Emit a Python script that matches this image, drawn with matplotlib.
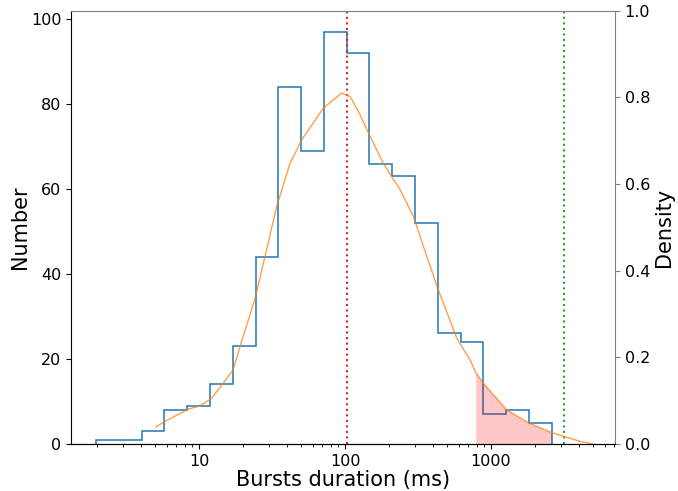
import numpy as np
import matplotlib
matplotlib.use("Agg")
import matplotlib.pyplot as plt

# histogram of burst durations (20 log-spaced bins)
bin_lo, bin_hi = 1.97, 2600.0
counts = [1, 1, 3, 8, 9, 14, 23, 44, 84, 69, 97, 92, 66, 63, 52, 26, 24, 7, 8, 5]

# density curve
dens_x = [5.05, 5.85, 8.41, 10.16, 12.08, 13.9, 17.1, 19.4, 24.2, 28.3, 34.0, 42.0,
          50.5, 71.0, 94.8, 108.2, 126.7, 148.3, 182.8, 238, 294, 344, 435, 582,
          718, 785, 885, 1282, 1820, 2607, 3162, 4049, 4898]
dens_y = [0.039, 0.052, 0.080, 0.088, 0.104, 0.130, 0.171, 0.233, 0.336, 0.433, 0.548, 0.648,
          0.702, 0.775, 0.810, 0.802, 0.760, 0.710, 0.648, 0.587, 0.525, 0.456, 0.356, 0.244,
          0.194, 0.165, 0.140, 0.078, 0.048, 0.026, 0.017, 0.006, 0.0]

median_ms = 103.2
threshold_ms = 3162
tail_from, tail_to = 785, 2607

edges = np.logspace(np.log10(bin_lo), np.log10(bin_hi), len(counts) + 1)

fig = plt.figure(figsize=(6.78, 4.91), dpi=100)
ax = fig.add_axes([0.105, 0.096, 0.802, 0.882])
ax.stairs(counts, edges, color="C0", linewidth=1.1)
ax.axvline(median_ms, color="C3", linestyle=":", linewidth=1.5)
ax.axvline(threshold_ms, color="C2", linestyle=":", linewidth=1.5)
ax.set_xscale("log")
ax.set_xlim(1.33, 7060)
ax.set_ylim(0, 102)
ax.set_xlabel("Bursts duration (ms)", fontsize=15, labelpad=1)
ax.set_ylabel("Number", fontsize=15, labelpad=1)
ax.tick_params(labelsize=11.5)
ax.set_xticks([10, 100, 1000])
ax.set_xticklabels(["10", "100", "1000"])

ax2 = ax.twinx()
dx = np.array(dens_x)
dy = np.array(dens_y)
ax2.plot(dx, dy, color="C1", alpha=0.75, linewidth=1)
m = (dx >= tail_from) & (dx <= tail_to)
ax2.fill_between(dx[m], 0, dy[m], color="red", alpha=0.22, linewidth=0)
ax2.set_ylim(0, 1.0)
ax2.set_ylabel("Density", fontsize=15, labelpad=3)
ax2.tick_params(labelsize=11.5, color="gray")
ax2.spines["left"].set_visible(False)
ax2.spines["top"].set_color("gray")
ax2.spines["right"].set_color("gray")
ax.spines["top"].set_visible(False)
ax.spines["right"].set_visible(False)

fig.savefig("out.png", dpi=100)
